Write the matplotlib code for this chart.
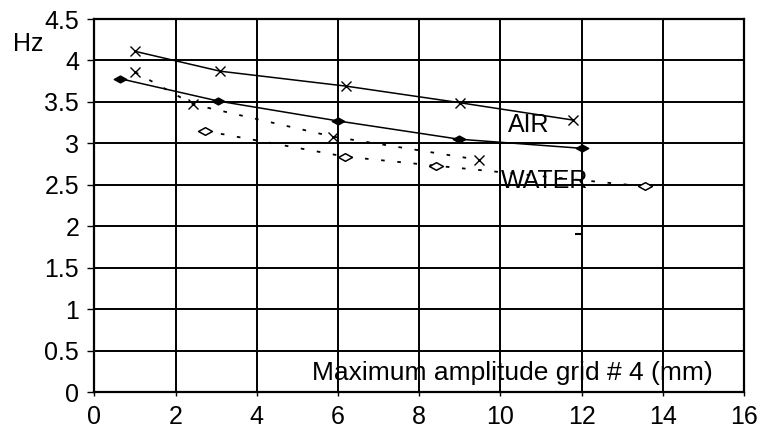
from matplotlib import pyplot as plt
from matplotlib.path import Path

plt.rcParams['font.family'] = ['Liberation Sans', 'DejaVu Sans']

# =============================================================================
# Measured frequencies (Hz) against maximum amplitude at grid #4 (mm)
# =============================================================================
air_cross_x = [1.0, 3.1, 6.2, 9.0, 11.8]
air_cross_y = [4.11, 3.87, 3.69, 3.49, 3.28]

air_diam_x = [0.63, 3.05, 6.0, 8.98, 12.0]
air_diam_y = [3.78, 3.51, 3.27, 3.05, 2.94]

water_cross_x = [1.0, 2.43, 5.88, 9.48]
water_cross_y = [3.86, 3.47, 3.08, 2.80]

water_diam_x = [2.72, 6.17, 8.41, 13.56]
water_diam_y = [3.15, 2.84, 2.73, 2.48]

# lone reading near 12 mm
stray_x = [11.9]
stray_y = [1.91]

xticks = [0, 2, 4, 6, 8, 10, 12, 14, 16]
yticks = [0, 0.5, 1, 1.5, 2, 2.5, 3, 3.5, 4, 4.5]
ytick_labels = ['0', '0.5', '1', '1.5', '2', '2.5', '3', '3.5', '4', '4.5']

# flattened diamond marker
flat_diamond = Path([(-1, 0), (0, 0.55), (1, 0), (0, -0.55), (-1, 0)],
                    [Path.MOVETO, Path.LINETO, Path.LINETO, Path.LINETO,
                     Path.CLOSEPOLY])

fig = plt.figure(figsize=[7.65, 4.28], dpi=100)
ax = fig.add_axes([0.1235, 0.0841, 0.849, 0.8715])

# AIR curves (solid)
ax.plot(air_cross_x, air_cross_y, color='black', lw=1.1,
        marker='x', markersize=7, markeredgewidth=1.0)
ax.plot(air_diam_x, air_diam_y, color='black', lw=1.1,
        marker=flat_diamond, markersize=9, markerfacecolor='black')

# WATER curves (dotted)
ax.plot(water_cross_x, water_cross_y, color='black', lw=1.3,
        linestyle=(0, (2, 7)), marker='x', markersize=7, markeredgewidth=1.0)
ax.plot(water_diam_x, water_diam_y, color='black', lw=1.3,
        linestyle=(0, (2, 7)), marker=flat_diamond, markersize=10,
        markerfacecolor='white', markeredgewidth=1.1)
ax.plot(stray_x, stray_y, color='black', linestyle='none',
        marker='_', markersize=5, markeredgewidth=1.5)

ax.set_xlim(0, 16)
ax.set_ylim(0, 4.5)
ax.set_xticks(xticks)
ax.set_yticks(yticks)
ax.set_yticklabels(ytick_labels)
ax.tick_params(axis='both', labelsize=18, direction='out', color='black')
ax.tick_params(axis='y', length=5, width=1.0, pad=6)
ax.tick_params(axis='x', length=3, width=1.0, pad=6)
ax.grid(color='black', lw=1.4)
for s in ax.spines.values():
    s.set_linewidth(1.6)

ax.text(10.7, 3.22, 'AIR', fontsize=18, ha='center', va='center')
ax.text(11.1, 2.55, 'WATER', fontsize=18, ha='center', va='center')
ax.text(10.3, 0.23, 'Maximum amplitude grid # 4 (mm)', fontsize=19,
        ha='center', va='center')
fig.text(28 / 765, 1 - 44 / 428, 'Hz', fontsize=18, ha='center', va='center')

plt.savefig('out.png', dpi=100)
